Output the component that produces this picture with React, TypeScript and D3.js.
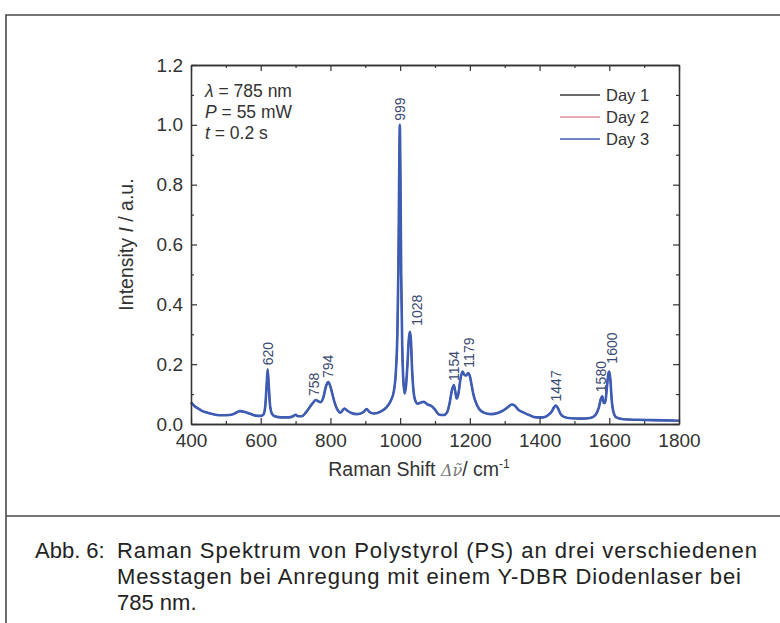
import React, { useEffect, useRef } from "react";
import * as d3 from "d3";

// Raman shift (cm-1) and normalised intensity
const shifts = [
  400, 405, 410, 420, 430, 440, 455, 470, 490, 510, 525, 540, 555, 570, 585, 600,
  608, 613, 617, 620, 623, 627, 632, 640, 660, 680, 693, 700, 707, 718, 728, 738,
  748, 758, 765, 772, 780, 787, 794, 800, 806, 813, 820, 829, 840, 848, 860, 877,
  895, 904, 912, 925, 945, 960, 972, 982, 988, 992, 995, 997, 999, 1001, 1003, 1006,
  1009, 1013, 1017, 1021, 1025, 1028, 1031, 1034, 1038, 1043, 1050, 1060, 1068, 1078, 1090, 1100,
  1111, 1125, 1135, 1142, 1148, 1154, 1158, 1162, 1167, 1173, 1179, 1184, 1189, 1195, 1200, 1205,
  1211, 1218, 1228, 1240, 1260, 1280, 1295, 1308, 1320, 1328, 1340, 1355, 1370, 1390, 1410, 1425,
  1435, 1441, 1447, 1453, 1460, 1470, 1490, 1520, 1545, 1560, 1570, 1576, 1580, 1584, 1588, 1593,
  1597, 1600, 1603, 1607, 1612, 1620, 1640, 1680, 1720, 1760, 1800,
];
const intensity = [
  0.072, 0.066, 0.06, 0.052, 0.045, 0.04, 0.035, 0.031, 0.029, 0.03, 0.035, 0.043, 0.04, 0.034, 0.028, 0.027,
  0.032, 0.06, 0.13, 0.183, 0.13, 0.06, 0.035, 0.026, 0.022, 0.022, 0.026, 0.031, 0.026, 0.026, 0.036, 0.052,
  0.068, 0.08, 0.076, 0.073, 0.09, 0.125, 0.14, 0.125, 0.098, 0.068, 0.048, 0.038, 0.052, 0.045, 0.037, 0.033,
  0.04, 0.05, 0.04, 0.035, 0.042, 0.055, 0.075, 0.11, 0.18, 0.3, 0.52, 0.8, 1.0, 0.8, 0.5, 0.26,
  0.15, 0.102, 0.13, 0.2, 0.285, 0.308, 0.28, 0.19, 0.115, 0.08, 0.068, 0.072, 0.074, 0.066, 0.06, 0.048,
  0.032, 0.03, 0.04, 0.07, 0.11, 0.13, 0.11, 0.085, 0.1, 0.15, 0.175, 0.165, 0.162, 0.17, 0.16, 0.13,
  0.095, 0.07, 0.048, 0.038, 0.033, 0.037, 0.045, 0.055, 0.065, 0.062, 0.047, 0.038, 0.03, 0.022, 0.022, 0.03,
  0.042, 0.055, 0.062, 0.052, 0.034, 0.024, 0.019, 0.018, 0.02, 0.03, 0.055, 0.085, 0.093, 0.07, 0.07, 0.12,
  0.165, 0.175, 0.15, 0.08, 0.04, 0.022, 0.016, 0.014, 0.013, 0.012, 0.011,
];

// the three measuring days lie on top of each other in the figure
const day1 = intensity;
const day2 = intensity;
const day3 = intensity;

const seriesNames = ["Day 1", "Day 2", "Day 3"];
const seriesColors = ["#3a3a3a", "#e3919f", "#3d5cb4"];

const peakLabels = [620, 758, 794, 999, 1028, 1154, 1179, 1447, 1580, 1600];

const xTicks = [400, 600, 800, 1000, 1200, 1400, 1600, 1800];
const xMinorTicks = [500, 700, 900, 1100, 1300, 1500, 1700];
const yTicks = [0, 0.2, 0.4, 0.6, 0.8, 1.0, 1.2];
const yMinorTicks = [0.1, 0.3, 0.5, 0.7, 0.9, 1.1];

const captionLabel = "Abb. 6:";
const captionLines = [
  "Raman Spektrum von Polystyrol (PS) an drei verschiedenen",
  "Messtagen bei Anregung mit einem Y-DBR Diodenlaser bei",
  "785 nm.",
];

const W = 780;
const H = 623;
const plot = { left: 191, top: 65, right: 679, bottom: 424 };
const font = "'Liberation Sans', Arial, sans-serif";
const ink = "#333333";

// sideways nudge (px) so crowded peak labels sit apart like in the print
const labelNudge: Record<number, [number, number]> = {
  758: [-2, 0], 1028: [7, -2], 1179: [7, 0], 1580: [-1, 0], 1600: [3, -4],
};

const drawChart = (el: SVGSVGElement) => {
  const svg = d3.select(el);
  svg.selectAll("*").remove();

  const x = d3.scaleLinear().domain([400, 1800]).range([plot.left, plot.right]);
  const y = d3.scaleLinear().domain([0, 1.2]).range([plot.bottom, plot.top]);

  // page frame round the figure and the caption
  svg.append("path")
    .attr("d", `M6,${H} V15 H${W} M6,516 H${W}`)
    .attr("fill", "none")
    .attr("stroke", "#4a4a4a")
    .attr("stroke-width", 1.6);

  // the spectra
  const line = d3.line<number>()
    .x((_, i) => x(shifts[i]))
    .y((d) => y(d))
    .curve(d3.curveMonotoneX);

  [day1, day2, day3].forEach((s, i) => {
    svg.append("path")
      .attr("d", line(s))
      .attr("fill", "none")
      .attr("stroke", seriesColors[i])
      .attr("stroke-width", i === 2 ? 2.6 : 1.6)
      .attr("stroke-linejoin", "round");
  });

  // axes, ticks pointing inward on all four sides
  const styleAxis = (g: any) => {
    g.select(".domain").attr("stroke", ink).attr("stroke-width", 1.3);
    g.selectAll(".tick line").attr("stroke", ink).attr("stroke-width", 1.2);
    g.selectAll("text").attr("fill", ink).attr("font-family", font).attr("font-size", 19);
  };

  const bottom = svg.append("g").attr("transform", `translate(0,${plot.bottom})`);
  bottom.call(d3.axisBottom(x).tickValues(xTicks).tickSize(-6).tickSizeOuter(0).tickPadding(10).tickFormat(d3.format("d")) as any);
  styleAxis(bottom);
  const bottomMinor = svg.append("g").attr("transform", `translate(0,${plot.bottom})`);
  bottomMinor.call(d3.axisBottom(x).tickValues(xMinorTicks).tickSize(-3).tickSizeOuter(0).tickFormat(() => "") as any);
  styleAxis(bottomMinor);

  const top = svg.append("g").attr("transform", `translate(0,${plot.top})`);
  top.call(d3.axisTop(x).tickValues(xTicks).tickSize(-6).tickSizeOuter(0).tickFormat(() => "") as any);
  styleAxis(top);
  const topMinor = svg.append("g").attr("transform", `translate(0,${plot.top})`);
  topMinor.call(d3.axisTop(x).tickValues(xMinorTicks).tickSize(-3).tickSizeOuter(0).tickFormat(() => "") as any);
  styleAxis(topMinor);

  const left = svg.append("g").attr("transform", `translate(${plot.left},0)`);
  left.call(d3.axisLeft(y).tickValues(yTicks).tickSize(-6).tickSizeOuter(0).tickPadding(8).tickFormat(d3.format(".1f")) as any);
  styleAxis(left);
  const leftMinor = svg.append("g").attr("transform", `translate(${plot.left},0)`);
  leftMinor.call(d3.axisLeft(y).tickValues(yMinorTicks).tickSize(-3).tickSizeOuter(0).tickFormat(() => "") as any);
  styleAxis(leftMinor);

  const right = svg.append("g").attr("transform", `translate(${plot.right},0)`);
  right.call(d3.axisRight(y).tickValues(yTicks).tickSize(-6).tickSizeOuter(0).tickFormat(() => "") as any);
  styleAxis(right);
  const rightMinor = svg.append("g").attr("transform", `translate(${plot.right},0)`);
  rightMinor.call(d3.axisRight(y).tickValues(yMinorTicks).tickSize(-3).tickSizeOuter(0).tickFormat(() => "") as any);
  styleAxis(rightMinor);

  // peak labels, written upward just above each peak
  peakLabels.forEach((p) => {
    const top = d3.max(shifts.map((s, i) => (Math.abs(s - p) <= 8 ? day3[i] : 0))) as number;
    const [dx, dy] = labelNudge[p] || [0, 0];
    svg.append("text")
      .attr("transform", `translate(${x(p) + dx},${y(top) - 4 + dy}) rotate(-90)`)
      .attr("dy", "0.35em")
      .attr("font-family", font)
      .attr("font-size", 14)
      .attr("fill", "#3a4a72")
      .text(p);
  });

  // measurement conditions
  const cond = svg.append("text")
    .attr("font-family", font)
    .attr("font-size", 17.5)
    .attr("fill", ink);
  const c1 = cond.append("tspan").attr("x", 205).attr("y", 97);
  c1.append("tspan").attr("font-style", "italic").text("λ");
  c1.append("tspan").text(" = 785 nm");
  const c2 = cond.append("tspan").attr("x", 205).attr("y", 118);
  c2.append("tspan").attr("font-style", "italic").text("P");
  c2.append("tspan").text(" = 55 mW");
  const c3 = cond.append("tspan").attr("x", 205).attr("y", 139);
  c3.append("tspan").attr("font-style", "italic").text("t");
  c3.append("tspan").text(" = 0.2 s");

  // legend
  seriesNames.forEach((name, i) => {
    const ly = 95 + i * 22;
    svg.append("line")
      .attr("x1", 560).attr("x2", 600)
      .attr("y1", ly).attr("y2", ly)
      .attr("stroke", seriesColors[i])
      .attr("stroke-width", 1.6);
    svg.append("text")
      .attr("x", 606).attr("y", ly + 6)
      .attr("font-family", font)
      .attr("font-size", 16.5)
      .attr("fill", ink)
      .text(name);
  });

  // axis titles
  const yTitle = svg.append("text")
    .attr("transform", `translate(133,${(plot.top + plot.bottom) / 2}) rotate(-90)`)
    .attr("text-anchor", "middle")
    .attr("font-family", font)
    .attr("font-size", 19.5)
    .attr("fill", ink);
  yTitle.append("tspan").text("Intensity ");
  yTitle.append("tspan").attr("font-style", "italic").text("I");
  yTitle.append("tspan").text(" / a.u.");

  const xTitle = svg.append("text")
    .attr("x", 419).attr("y", 476)
    .attr("text-anchor", "middle")
    .attr("font-family", font)
    .attr("font-size", 19.5)
    .attr("fill", ink);
  xTitle.append("tspan").text("Raman Shift ");
  xTitle.append("tspan")
    .attr("font-family", "'DejaVu Serif', serif")
    .attr("font-style", "italic")
    .attr("fill", "#777")
    .attr("font-size", 16)
    .text("Δν̃");
  xTitle.append("tspan").text("/ cm");
  xTitle.append("tspan").attr("font-size", 12).attr("dy", -8).text("-1");

  // figure caption
  const cap = svg.append("g")
    .attr("font-family", "'Liberation Sans Narrow', 'Liberation Sans', sans-serif")
    .attr("font-size", 22)
    .attr("fill", "#222");
  cap.append("text").attr("x", 35).attr("y", 558).text(captionLabel);
  captionLines.forEach((t, i) => {
    const txt = cap.append("text").attr("x", 117).attr("y", 558 + i * 26).text(t);
    // the long lines are set a little wider in the print
    if (i === 0) txt.attr("textLength", 640).attr("lengthAdjust", "spacing");
    if (i === 1) txt.attr("textLength", 624).attr("lengthAdjust", "spacing");
  });
};

export default function App() {
  const ref = useRef<SVGSVGElement>(null);

  useEffect(() => {
    if (ref.current) drawChart(ref.current);
  }, []);

  return (
    <svg
      ref={ref}
      width={W}
      height={H}
      style={{ position: "absolute", left: 0, top: 0, background: "#fff" }}
    />
  );
}
